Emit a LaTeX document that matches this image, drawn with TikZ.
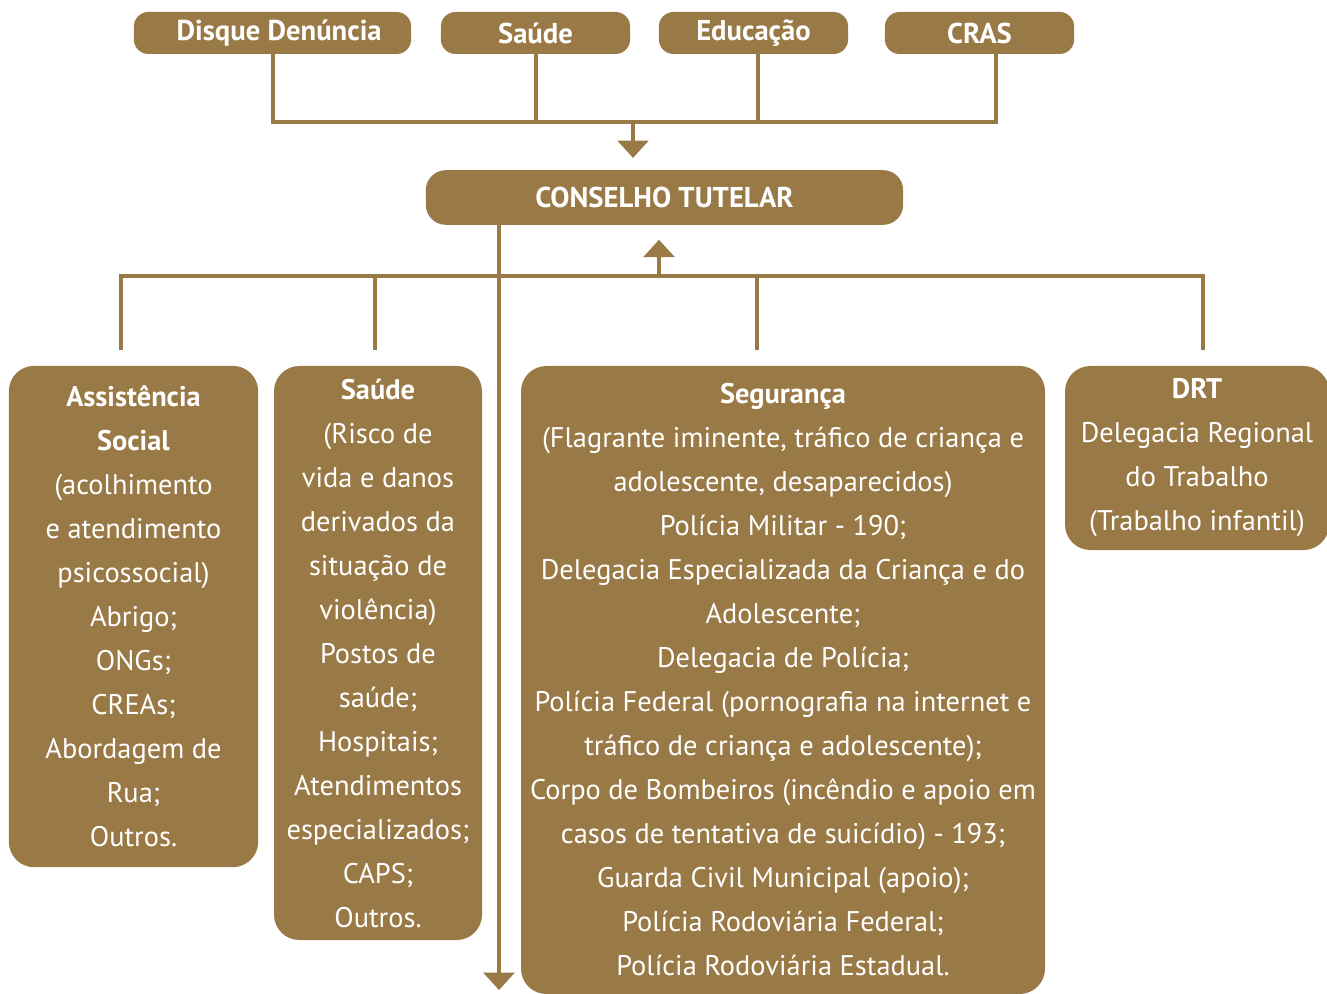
\documentclass[tikz,border=0pt]{standalone}
\usepackage{fontspec}
\setmainfont{PT Sans}
\usetikzlibrary{arrows.meta}
\definecolor{ctbrown}{RGB}{153,121,69}
\tikzset{
  topbox/.style={fill=ctbrown,rounded corners=11pt,text=white,inner sep=0pt,
    minimum height=31.5pt,font=\bfseries\fontsize{21.5}{24}\selectfont},
  listbox/.style={fill=ctbrown,rounded corners=19pt,text=white,inner sep=0pt,
    align=center,font=\fontsize{21.3}{33}\selectfont},
  link/.style={draw=ctbrown,line width=3pt},
  tip/.style={-{Triangle[width=23pt,length=13pt]}}
}
\begin{document}
\begin{tikzpicture}[x=0.75pt,y=-0.75pt]
\useasboundingbox (0,0) rectangle (1327,994);
\node[topbox,minimum width=208pt] (disque) at (272.5,33) {\hspace{10pt}Disque Denúncia};
\node[topbox,minimum width=142pt] (saude) at (535.5,33) {Saúde};
\node[topbox,minimum width=142pt] (educ) at (753.5,33) {Educação};
\node[topbox,minimum width=142pt] (cras) at (979.5,33) {CRAS};
\node[topbox,minimum width=358pt,minimum height=41pt,rounded corners=15pt] (conselho) at (664.5,197.5) {CONSELHO TUTELAR};
\node[listbox,minimum width=187pt,minimum height=376pt] (assist) at (133.5,616.5)
  {\textbf{Assistência}\\\textbf{Social}\\(acolhimento\\e atendimento\\psicossocial)\\Abrigo;\\ONGs;\\CREAs;\\Abordagem de\\Rua;\\Outros.};
\node[listbox,minimum width=156pt,minimum height=430.5pt] (saude2) at (378,653)
  {\textbf{Saúde}\\(Risco de\\vida e danos\\derivados da\\situação de\\violência)\\Postos de\\saúde;\\Hospitais;\\Atendimentos\\especializados;\\CAPS;\\Outros.};
\node[listbox,minimum width=393pt,minimum height=471pt] (seg) at (783,680)
  {\textbf{Segurança}\\(Flagrante iminente, tráfico de criança e\\adolescente, desaparecidos)\\Polícia Militar - 190;\\Delegacia Especializada da Criança e do\\Adolescente;\\Delegacia de Polícia;\\Polícia Federal (pornografia na internet e\\tráfico de criança e adolescente);\\Corpo de Bombeiros (incêndio e apoio em\\casos de tentativa de suicídio) - 193;\\Guarda Civil Municipal (apoio);\\Polícia Rodoviária Federal;\\Polícia Rodoviária Estadual.};
\node[listbox,minimum width=198pt,minimum height=138pt] (drt) at (1197,458)
  {\textbf{DRT}\\Delegacia Regional\\do Trabalho\\(Trabalho infantil)};
\coordinate (topbus) at (633,122);
\coordinate (botbus) at (659,276);
\coordinate (out) at (499,990);
\coordinate (dropa) at (121,350);
\coordinate (dropb) at (375,350);
\coordinate (dropc) at (757,350);
\coordinate (dropd) at (1203,350);
\draw[link] (disque.south) -- ++(0,68) -| ([xshift=12pt]cras.south);
\draw[link] (saude.south) -- ++(0,68);
\draw[link] ([xshift=3pt]educ.south) -- ++(0,68);
\draw[link,tip,shorten >=9pt] (topbus) -- (topbus |- conselho.north);
\draw[link,tip] (conselho.south -| out) -- (out);
\draw[link,tip,shorten >=11pt] (botbus) -- (botbus |- conselho.south);
\draw[link] (dropa) -- ++(0,-74) -| (dropd);
\draw[link] (dropb) -- (dropb |- botbus);
\draw[link] (dropc) -- (dropc |- botbus);
\end{tikzpicture}
\end{document}
